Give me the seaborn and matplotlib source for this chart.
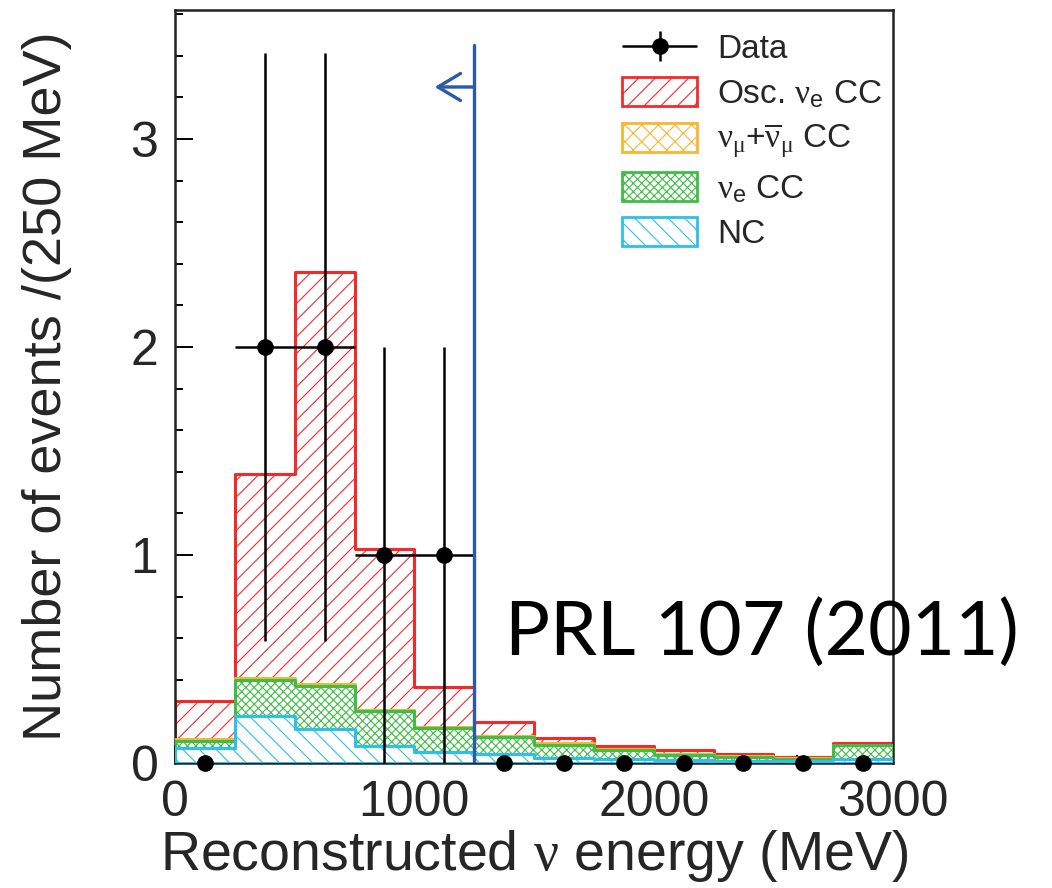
import numpy as np
import matplotlib
matplotlib.use("Agg")
import matplotlib.pyplot as plt
import seaborn as sns
from matplotlib.patches import Patch
from matplotlib.ticker import MultipleLocator
from matplotlib.container import ErrorbarContainer
from matplotlib.legend_handler import HandlerErrorbar

# ---------------- data ----------------
bin_edges = [0, 250, 500, 750, 1000, 1250, 1500, 1750, 2000, 2250, 2500, 2750, 3000]
bin_centers = [125, 375, 625, 875, 1125, 1375, 1625, 1875, 2125, 2375, 2625, 2875]
nc = [0.074, 0.227, 0.164, 0.082, 0.055, 0.043, 0.023, 0.020, 0.013, 0.010, 0.008, 0.020]
nue_cc = [0.033, 0.173, 0.208, 0.168, 0.113, 0.081, 0.065, 0.043, 0.026, 0.020, 0.012, 0.064]
numu_cc = [0.007, 0.010, 0.006, 0.006, 0.007, 0.006, 0.007, 0.005, 0.002, 0.002, 0.002, 0.003]
osc_nue_cc = [0.182, 0.980, 1.982, 0.774, 0.189, 0.068, 0.027, 0.014, 0.019, 0.011, 0.006, 0.008]
data_counts = [0, 2, 2, 1, 1, 0, 0, 0, 0, 0, 0, 0]
cut_energy = 1250

labels = ["Osc. $\\nu_{\\mathrm{e}}$ CC", "$\\nu_{\\mu}$+$\\overline{\\nu}_{\\mu}$ CC",
          "$\\nu_{\\mathrm{e}}$ CC", "NC"]
colors = ["#f42a2a", "#f6b731", "#3fbd45", "#2ec0ea"]
hatches = ["//", "xx", "xxxx", "\\\\"]

# ---------------- style ----------------
sns.set_theme(style="white")
plt.rcParams["font.family"] = ["Liberation Sans", "DejaVu Sans"]
plt.rcParams["mathtext.fontset"] = "custom"
plt.rcParams["mathtext.rm"] = "Liberation Sans"
plt.rcParams["mathtext.it"] = "Liberation Serif"
plt.rcParams["mathtext.bf"] = "Liberation Sans:bold"
plt.rcParams["hatch.linewidth"] = 0.8

fig = plt.figure(figsize=(10.52, 8.88), dpi=100)
ax = fig.add_axes([0.1664, 0.1408, 0.6825, 0.8479])

# stacked components (top of stack drawn first, each layer covers the one above)
components = [osc_nue_cc, numu_cc, nue_cc, nc]
stack = np.cumsum(np.array(components[::-1]), axis=0)[::-1]
for i, (vals, col, h) in enumerate(zip(stack, colors, hatches)):
    sns.histplot(x=bin_centers, weights=vals, bins=bin_edges, element="step",
                 fill=True, color=col, ax=ax, zorder=2 + i)
    art = ax.collections[-1]
    art.set_alpha(1)
    art.set_facecolor("white")
    art.set_edgecolor(col)
    art.set_hatch(h)
    art.set_linewidth(2.2)

# data points
counts = np.array(data_counts, dtype=float)
xerr = np.where(counts > 0, 125, 0)
yerr = np.sqrt(counts)
eb = ax.errorbar(bin_centers, counts, xerr=xerr, yerr=yerr, fmt="o", color="black",
                 ms=11, elinewidth=1.8, capsize=0, zorder=10)
eb[0].set_clip_on(False)

# cut line and arrow
ax.plot([cut_energy, cut_energy], [0, 3.45], color="#2a5aa8", lw=2.4, zorder=11)
ax.annotate("", xy=(1085, 3.25), xytext=(cut_energy, 3.25),
            arrowprops=dict(arrowstyle="->,head_length=0.45,head_width=0.27",
                            color="#2a5aa8", lw=2.4,
                            mutation_scale=36, shrinkA=0, shrinkB=0), zorder=11)

ax.set_xlim(0, 3000)
ax.set_ylim(0, 3.62)
ax.set_xticks([0, 1000, 2000, 3000])
ax.set_yticks([0, 1, 2, 3])
ax.xaxis.set_minor_locator(MultipleLocator(200))
ax.yaxis.set_minor_locator(MultipleLocator(0.2))
ax.tick_params(which="both", direction="in", top=False, right=False,
               bottom=True, left=True, color="black", width=1.4)
ax.tick_params(which="major", length=13, labelsize=36)
ax.tick_params(axis="y", which="major", pad=12)
ax.tick_params(axis="x", which="major", pad=12)
ax.tick_params(which="minor", length=6)
for s in ax.spines.values():
    s.set_color("#222222")
    s.set_linewidth(1.8)

ax.set_xlabel("Reconstructed $\\nu$ energy (MeV)", fontsize=40, labelpad=2)
ax.set_ylabel("Number of events /(250 MeV)", fontsize=39, labelpad=42)

handles = [eb] + [Patch(facecolor="white", edgecolor=c, hatch=h, linewidth=2.0)
                  for c, h in zip(colors, hatches)]
leg = ax.legend(handles, ["Data"] + labels, loc="upper left",
                bbox_to_anchor=(0.6226, 0.97), frameon=False, fontsize=24,
                handlelength=2.25, handleheight=0.95, handletextpad=0.6,
                labelspacing=0.36, borderpad=0, borderaxespad=0,
                handler_map={ErrorbarContainer: HandlerErrorbar(xerr_size=1.12, yerr_size=0.45)})

fig.text(0.48, 0.262, "PRL 107 (2011)", fontsize=54, family="Lato",
         color="black", va="baseline", ha="left")

fig.savefig("out.png", dpi=100)
